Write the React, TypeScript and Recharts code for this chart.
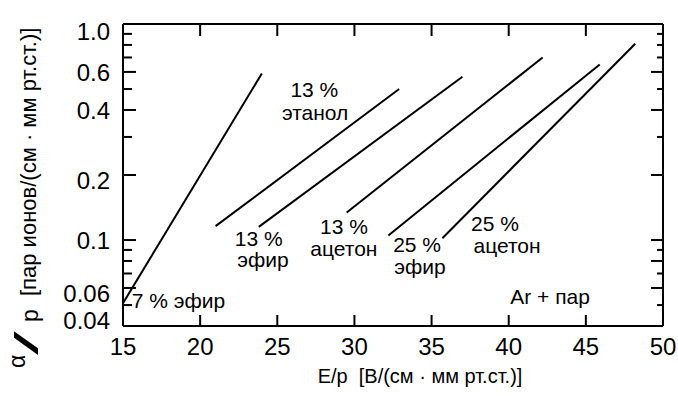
import React from 'react';
import { LineChart, Line, XAxis, YAxis, ReferenceDot } from 'recharts';

const FONT = '"Liberation Sans", Arial, Helvetica, sans-serif';

const xTicks = [15, 20, 25, 30, 35, 40, 45, 50];
const yTicks = [0.04, 0.05, 0.06, 0.07, 0.08, 0.09, 0.1, 0.2, 0.3, 0.4, 0.5, 0.6, 0.7, 0.8, 0.9, 1.0];
const yLabeled = [0.04, 0.06, 0.1, 0.2, 0.4, 0.6, 1.0];

const ether7 = [{ x: 15, y: 0.051 }, { x: 24, y: 0.59 }];
const ethanol13 = [{ x: 21, y: 0.116 }, { x: 32.9, y: 0.5 }];
const ether13 = [{ x: 23.8, y: 0.115 }, { x: 37, y: 0.57 }];
const acetone13 = [{ x: 29.5, y: 0.134 }, { x: 42.2, y: 0.7 }];
const ether25 = [{ x: 32.2, y: 0.105 }, { x: 45.9, y: 0.65 }];
const acetone25 = [{ x: 35.7, y: 0.102 }, { x: 48.2, y: 0.81 }];

const series = [ether7, ethanol13, ether13, acetone13, ether25, acetone25];

const annotations = [
  { text: '13 %', x: 27.4, y: 0.495 },
  { text: 'этанол', x: 27.45, y: 0.391 },
  { text: '13 %', x: 23.8, y: 0.102 },
  { text: 'эфир', x: 24.07, y: 0.0808 },
  { text: '13 %', x: 29.32, y: 0.116 },
  { text: 'ацетон', x: 29.32, y: 0.0918 },
  { text: '25 %', x: 34.06, y: 0.0948 },
  { text: 'эфир', x: 34.25, y: 0.075 },
  { text: '25 %', x: 39.11, y: 0.1186 },
  { text: 'ацетон', x: 39.89, y: 0.0938 },
  { text: 'Ar + пар', x: 42.68, y: 0.0545 },
  { text: '7 % эфир', x: 18.6, y: 0.0527 },
];

const labelShift = (v: number) => {
  if (v === 1.0) return 8;
  if (v === 0.04) return -5;
  if (v === 0.2 || v === 0.06) return 6;
  return 1;
};

const LeftTick = (props: any) => {
  const { x, y, payload } = props;
  const v = payload.value;
  const major = yLabeled.includes(v);
  return (
    <g>
      <line x1={x} y1={y} x2={x + (major ? 13 : 9)} y2={y} stroke="#000" strokeWidth={2} />
      {major && (
        <text x={x - 13} y={y + labelShift(v) + 8} textAnchor="end" fontSize={24} fontFamily={FONT} fill="#000">
          {v === 1 ? '1.0' : String(v)}
        </text>
      )}
    </g>
  );
};

const RightTick = (props: any) => {
  const { x, y, payload } = props;
  const major = yLabeled.includes(payload.value) || payload.value === 0.08;
  return <line x1={x} y1={y} x2={x - (major ? 12 : 6)} y2={y} stroke="#000" strokeWidth={2} />;
};

const BottomTick = (props: any) => {
  const { x, y, payload } = props;
  return (
    <g>
      <line x1={x} y1={y} x2={x} y2={y - 11} stroke="#000" strokeWidth={2} />
      <text x={x} y={y + 29} textAnchor="middle" fontSize={24} fontFamily={FONT} fill="#000">
        {payload.value}
      </text>
    </g>
  );
};

const TopTick = (props: any) => {
  const { x, y } = props;
  return <line x1={x} y1={y} x2={x} y2={y + 12} stroke="#000" strokeWidth={2} />;
};

const XTitle = () => (
  <text x={420} y={383} textAnchor="middle" fontSize={20} fontFamily={FONT} fill="#000">
    {'E/p\u00A0\u00A0[В/(см · мм рт.ст.)]'}
  </text>
);

const YTitle = () => (
  <g fontFamily={FONT} fill="#000">
    <text transform="rotate(-90)" x={-296} y={36} fontSize={22}>
      {'[пар ионов/(см · мм рт.ст.)]'}
    </text>
    <text transform="rotate(-90)" x={-368} y={25} fontSize={23}>α</text>
    <text transform="rotate(-90) translate(-355,38) scale(2.6,1)" x={0} y={0} fontSize={33}>/</text>
    <text transform="rotate(-90)" x={-322} y={38} fontSize={23}>p</text>
  </g>
);

export default function App() {
  return (
    <div style={{ position: 'absolute', left: 0, top: 0, background: '#fff' }}>
      <LineChart width={678} height={396} margin={{ top: 23, right: 14, bottom: 0, left: 0 }}>
        <XAxis
          xAxisId="b"
          dataKey="x"
          type="number"
          domain={[15, 50]}
          ticks={xTicks}
          interval={0}
          allowDataOverflow
          height={70}
          tickSize={0}
          tickMargin={0}
          tick={<BottomTick />}
          axisLine={{ stroke: '#000', strokeWidth: 2 }}
          label={<XTitle />}
        />
        <XAxis
          xAxisId="t"
          orientation="top"
          dataKey="x"
          type="number"
          domain={[15, 50]}
          ticks={xTicks}
          interval={0}
          allowDataOverflow
          height={1}
          tickSize={0}
          tickMargin={0}
          tick={<TopTick />}
          axisLine={{ stroke: '#000', strokeWidth: 2 }}
        />
        <YAxis
          yAxisId="l"
          type="number"
          scale="log"
          domain={[0.04, 1]}
          ticks={yTicks}
          interval={0}
          allowDataOverflow
          width={123}
          tickSize={0}
          tickMargin={0}
          tick={<LeftTick />}
          axisLine={{ stroke: '#000', strokeWidth: 2 }}
          label={<YTitle />}
        />
        <YAxis
          yAxisId="r"
          orientation="right"
          type="number"
          scale="log"
          domain={[0.04, 1]}
          ticks={yTicks}
          interval={0}
          allowDataOverflow
          width={1}
          tickSize={0}
          tickMargin={0}
          tick={<RightTick />}
          axisLine={{ stroke: '#000', strokeWidth: 2 }}
        />
        {series.map((d, i) => (
          <Line
            key={i}
            data={d}
            dataKey="y"
            xAxisId="b"
            yAxisId="l"
            stroke="#000"
            strokeWidth={2}
            dot={false}
            isAnimationActive={false}
          />
        ))}
        {annotations.map((a, i) => (
          <ReferenceDot
            key={'a' + i}
            x={a.x}
            y={a.y}
            xAxisId="b"
            yAxisId="l"
            r={0}
            fill="none"
            stroke="none"
            label={{ value: a.text, position: 'center', fontSize: 21, fill: '#000', fontFamily: FONT }}
          />
        ))}
      </LineChart>
    </div>
  );
}
